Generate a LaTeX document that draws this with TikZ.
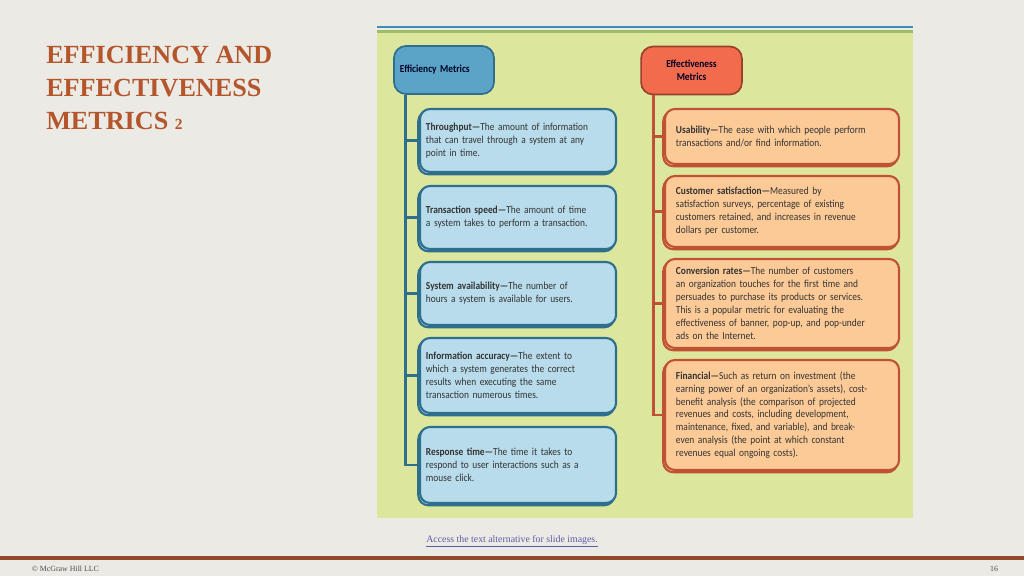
\documentclass[tikz,border=0pt]{standalone}
\usepackage{fontspec}
\setmainfont{Carlito}[FakeStretch=0.88,WordSpace=0.7]
\newfontfamily\titlefont{Liberation Serif}
\usetikzlibrary{shadows}
\definecolor{slidebg}{HTML}{ECEAE4}
\definecolor{panel}{HTML}{DDE69D}
\definecolor{band}{HTML}{9DBE68}
\definecolor{topline}{HTML}{3D8DB8}
\definecolor{effihead}{HTML}{5BA4C7}
\definecolor{effiline}{HTML}{2D6F8C}
\definecolor{effifill}{HTML}{B9DCEC}
\definecolor{effehead}{HTML}{F26B4D}
\definecolor{effeline}{HTML}{BF5135}
\definecolor{effefill}{HTML}{FCCA97}
\definecolor{titlecol}{HTML}{B4552B}
\definecolor{barcol}{HTML}{8E4A2A}
\definecolor{linkcol}{HTML}{5B5BA6}
\definecolor{boxtext}{HTML}{333333}
\begin{document}
\begin{tikzpicture}[x=0.025cm,y=-0.025cm,
  boxfont/.style={font=\fontsize{7.6}{9.2}\selectfont,text=boxtext},
  head/.style={boxfont,line width=1.2pt,rounded corners=0.3cm,minimum height=1.2cm,text=black!85!blue},
  effibox/.style={boxfont,draw=effiline,fill=effifill,line width=1.5pt,rounded corners=0.25cm,
    align=left,inner xsep=0.15cm,text width=4.6cm,
    copy shadow={shadow xshift=-1.2pt,shadow yshift=-1.6pt}},
  effebox/.style={boxfont,draw=effeline,fill=effefill,line width=1.5pt,rounded corners=0.25cm,
    align=left,inner xsep=0.275cm,text width=5.3cm,
    copy shadow={shadow xshift=-1.2pt,shadow yshift=-1.6pt}},
  spinel/.style={draw=effiline,line width=2pt},
  spiner/.style={draw=effeline,line width=2pt}]
  \fill[slidebg] (0,0) rectangle (1024,576);
  \fill[topline] (377,25.5) rectangle (913,28);
  \fill[band] (377,29.5) rectangle (913,33);
  \fill[panel] (377,33) rectangle (913,518);

  \node[anchor=north west,align=left,text=titlecol,inner sep=0pt,
    font=\titlefont\bfseries\fontsize{18.6}{23.5}\selectfont] (title) at (46,46)
    {EFFICIENCY AND\\EFFECTIVENESS\\METRICS {\fontsize{11}{11}\selectfont 2}};

  \node[head,draw=effiline,fill=effihead,align=left,inner xsep=0.15cm,text width=2.2cm] (effi) at (444,70)
    {\textbf{Efficiency Metrics}};
  \node[head,draw=effeline!80!black,fill=effehead,align=center,minimum width=2.52cm] (effe) at (691.5,70.5)
    {\textbf{Effectiveness}\\\textbf{Metrics}};

  \node[effibox,minimum height=1.575cm] (thr) at (518,140.5)
    {\textbf{Throughput---}The amount of information\\that can travel through a system at any\\point in time.};
  \node[effibox,minimum height=1.575cm] (tsp) at (518,217.5)
    {\textbf{Transaction speed---}The amount of time\\a system takes to perform a transaction.};
  \node[effibox,minimum height=1.575cm] (sav) at (518,293.5)
    {\textbf{System availability---}The number of\\hours a system is available for users.};
  \node[effibox,minimum height=1.875cm] (iac) at (518,375.5)
    {\textbf{Information accuracy---}The extent to\\which a system generates the correct\\results when executing the same\\transaction numerous times.};
  \node[effibox,minimum height=1.9cm] (rst) at (518,465)
    {\textbf{Response time---}The time it takes to\\respond to user interactions such as a\\mouse click.};

  \node[effebox,minimum height=1.375cm] (usa) at (782,136.5)
    {\textbf{Usability---}The ease with which people perform\\transactions and/or find information.};
  \node[effebox,minimum height=1.775cm] (cus) at (782,211.5)
    {\textbf{Customer satisfaction---}Measured by\\satisfaction surveys, percentage of existing\\customers retained, and increases in revenue\\dollars per customer.};
  \node[effebox,minimum height=2.225cm] (con) at (782,303.5)
    {\textbf{Conversion rates---}The number of customers\\an organization touches for the first time and\\persuades to purchase its products or services.\\This is a popular metric for evaluating the\\effectiveness of banner, pop-up, and pop-under\\ads on the Internet.};
  \node[effebox,minimum height=2.75cm] (fin) at (782,415)
    {\textbf{Financial---}Such as return on investment (the\\earning power of an organization's assets), cost-\\benefit analysis (the comparison of projected\\revenues and costs, including development,\\maintenance, fixed, and variable), and break-\\even analysis (the point at which constant\\revenues equal ongoing costs).};

  \coordinate (spl) at ([xshift=0.3cm]effi.south west);
  \draw[spinel] (spl) |- (rst.west);
  \draw[spinel] (spl |- thr.west) -- (thr.west);
  \draw[spinel] (spl |- tsp.west) -- (tsp.west);
  \draw[spinel] (spl |- sav.west) -- (sav.west);
  \draw[spinel] (spl |- iac.west) -- (iac.west);

  \coordinate (spr) at ([xshift=0.325cm]effe.south west);
  \draw[spiner] (spr) |- (fin.west);
  \draw[spiner] (spr |- usa.west) -- (usa.west);
  \draw[spiner] (spr |- cus.west) -- (cus.west);
  \draw[spiner] (spr |- con.west) -- (con.west);

  \node[text=linkcol,font=\titlefont\fontsize{7}{7.5}\selectfont] (link) at (512,541)
    {\underline{Access the text alternative for slide images.}};
  \fill[barcol] (0,555.5) rectangle (1024,560);
  \node[anchor=west,text=black!70,font=\titlefont\fontsize{5.6}{6}\selectfont] (copy) at (27,569)
    {\textcopyright{} McGraw Hill LLC};
  \node[anchor=east,text=black!70,font=\titlefont\fontsize{5.6}{6}\selectfont] (page) at (1003,569) {16};
\end{tikzpicture}
\end{document}
